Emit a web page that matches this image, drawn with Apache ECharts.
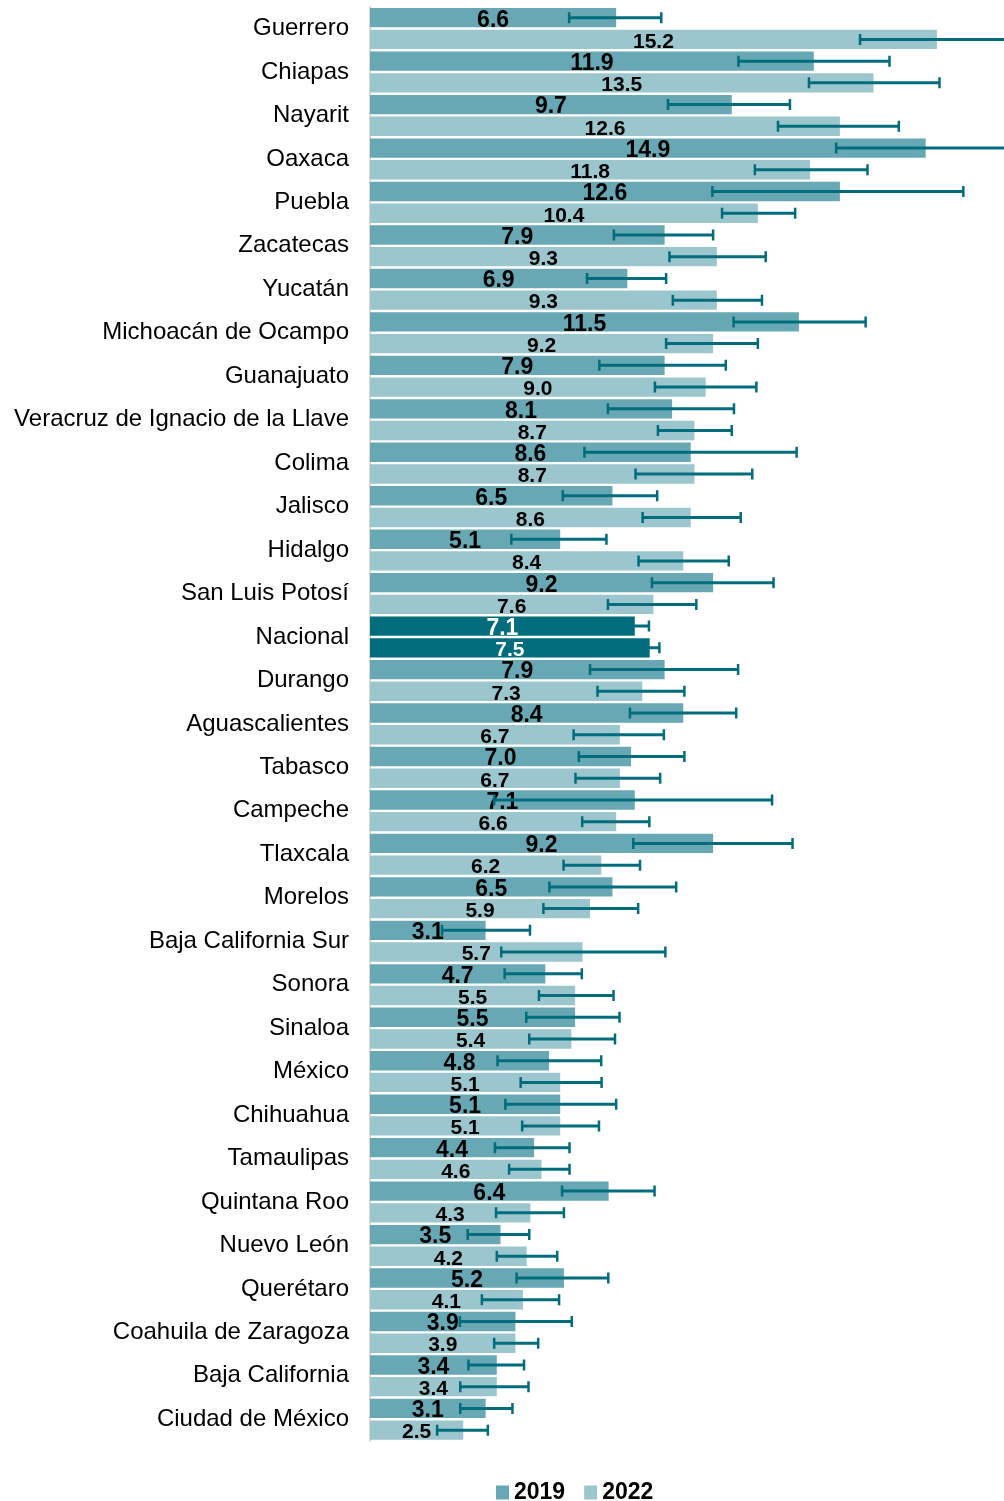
<!DOCTYPE html>
<html>
<head>
<meta charset="utf-8">
<script src="https://cdn.jsdelivr.net/npm/echarts@6/dist/echarts.min.js"></script>
<style>
html,body{margin:0;padding:0;background:#fff;}
#chart{width:1004px;height:1501px;}
</style>
</head>
<body>
<div id="chart"></div>
<script>
var categories = ['Guerrero','Chiapas','Nayarit','Oaxaca','Puebla','Zacatecas','Yucatán','Michoacán de Ocampo','Guanajuato','Veracruz de Ignacio de la Llave','Colima','Jalisco','Hidalgo','San Luis Potosí','Nacional','Durango','Aguascalientes','Tabasco','Campeche','Tlaxcala','Morelos','Baja California Sur','Sonora','Sinaloa','México','Chihuahua','Tamaulipas','Quintana Roo','Nuevo León','Querétaro','Coahuila de Zaragoza','Baja California','Ciudad de México'];

var values2019 = [6.6, 11.9, 9.7, 14.9, 12.6, 7.9, 6.9, 11.5, 7.9, 8.1, 8.6, 6.5, 5.1, 9.2, 7.1, 7.9, 8.4, 7.0, 7.1, 9.2, 6.5, 3.1, 4.7, 5.5, 4.8, 5.1, 4.4, 6.4, 3.5, 5.2, 3.9, 3.4, 3.1];
var values2022 = [15.2, 13.5, 12.6, 11.8, 10.4, 9.3, 9.3, 9.2, 9.0, 8.7, 8.7, 8.6, 8.4, 7.6, 7.5, 7.3, 6.7, 6.7, 6.6, 6.2, 5.9, 5.7, 5.5, 5.4, 5.1, 5.1, 4.6, 4.3, 4.2, 4.1, 3.9, 3.4, 2.5];

var low2019  = [5.34, 9.88, 7.99, 12.50, 9.18, 6.54, 5.82, 9.75, 6.15, 6.38, 5.75, 5.17, 3.79, 7.56, 6.70, 5.90, 6.97, 5.60, 3.33, 7.06, 4.81, 1.93, 3.61, 4.19, 3.42, 3.63, 3.35, 5.15, 2.62, 3.93, 2.41, 2.64, 2.42];
var high2019 = [7.81, 13.93, 11.26, 17.30, 15.91, 9.20, 7.94, 13.29, 9.54, 9.76, 11.44, 7.70, 6.34, 10.82, 7.48, 9.87, 9.82, 8.43, 10.78, 11.33, 8.21, 4.29, 5.68, 6.69, 6.20, 6.60, 5.35, 7.63, 4.27, 6.39, 5.41, 4.13, 3.82];
var low2022  = [13.14, 11.77, 10.94, 10.32, 9.44, 8.03, 8.12, 7.94, 7.64, 7.72, 7.12, 7.31, 7.20, 6.38, 7.20, 6.10, 5.46, 5.51, 5.69, 5.19, 4.65, 3.52, 4.53, 4.27, 4.04, 4.08, 3.73, 3.38, 3.40, 3.00, 3.33, 2.42, 1.80];
var high2022 = [17.26, 15.27, 14.18, 13.34, 11.40, 10.61, 10.51, 10.40, 10.36, 9.70, 10.25, 9.94, 9.62, 8.75, 7.76, 8.43, 7.88, 7.78, 7.49, 7.24, 7.19, 7.92, 6.53, 6.57, 6.21, 6.14, 5.35, 5.20, 5.02, 5.07, 4.51, 4.25, 3.16];

var seriesNames = ['2019', '2022'];
var highlightCategory = 'Nacional';

var FONT = "'Liberation Sans', Arial, sans-serif";
var C2019 = '#67a8b4';
var C2022 = '#9cc6cd';
var CDARK = '#006c7c';

function barData(vals) {
  return vals.map(function (v, i) {
    if (categories[i] === highlightCategory) {
      return { value: v, itemStyle: { color: CDARK }, label: { color: '#ffffff' } };
    }
    return v;
  });
}

function errData(lo, hi) {
  return lo.map(function (l, i) { return [i, l, hi[i]]; });
}

function makeRender(sign) {
  return function (params, api) {
    var cat = api.value(0);
    var p1 = api.coord([api.value(1), cat]);
    var p2 = api.coord([api.value(2), cat]);
    var band = api.size([0, 1])[1];
    var y = p1[1] + sign * band / 4;
    var cap = 5.5;
    var st = { stroke: CDARK, lineWidth: 3 };
    var cs = { stroke: CDARK, lineWidth: 2.5 };
    return {
      type: 'group',
      children: [
        { type: 'line', shape: { x1: p1[0], y1: y, x2: p2[0], y2: y }, style: st },
        { type: 'line', shape: { x1: p1[0], y1: y - cap, x2: p1[0], y2: y + cap }, style: cs },
        { type: 'line', shape: { x1: p2[0], y1: y - cap, x2: p2[0], y2: y + cap }, style: cs }
      ]
    };
  };
}

var chart = echarts.init(document.getElementById('chart'), null, { renderer: 'canvas' });
chart.setOption({
  animation: false,
  backgroundColor: '#ffffff',
  textStyle: { fontFamily: FONT },
  grid: { left: 370, right: 0, top: 6.8, bottom: 60, containLabel: false },
  legend: {
    data: seriesNames,
    left: 491,
    top: 1476,
    icon: 'rect',
    itemWidth: 13,
    itemHeight: 14,
    itemGap: 19,
    textStyle: { fontSize: 23, fontWeight: 'bold', color: '#000', fontFamily: FONT }
  },
  xAxis: {
    type: 'value', min: 0, max: 17, show: false,
    splitLine: { show: false }
  },
  yAxis: {
    type: 'category',
    data: categories,
    inverse: true,
    axisTick: { show: false },
    axisLine: { show: true, lineStyle: { color: '#d9d9d9', width: 2 } },
    axisLabel: { fontSize: 24, color: '#000', margin: 21, fontFamily: FONT, padding: [6, 0, 0, 0] }
  },
  series: [
    {
      name: seriesNames[0], type: 'bar', data: barData(values2019),
      barCategoryGap: '5.5%', barGap: '12%',
      itemStyle: { color: C2019 },
      z: 2,
      label: {
        show: true, position: 'inside', offset: [0, 2.5],
        fontSize: 23, fontWeight: 'bold', color: '#000', fontFamily: FONT,
        formatter: function (p) { return (+p.value).toFixed(1); }
      }
    },
    {
      name: seriesNames[1], type: 'bar', data: barData(values2022),
      barCategoryGap: '5.5%', barGap: '12%',
      itemStyle: { color: C2022 },
      z: 2,
      label: {
        show: true, position: 'inside', offset: [0, 2.5],
        fontSize: 21, fontWeight: 'bold', color: '#000', fontFamily: FONT,
        formatter: function (p) { return (+p.value).toFixed(1); }
      }
    },
    {
      name: 'err2019', type: 'custom', renderItem: makeRender(-1),
      data: errData(low2019, high2019), encode: { x: [1, 2], y: 0 },
      z: 5, clip: true, silent: true
    },
    {
      name: 'err2022', type: 'custom', renderItem: makeRender(1),
      data: errData(low2022, high2022), encode: { x: [1, 2], y: 0 },
      z: 5, clip: true, silent: true
    }
  ]
});
</script>
</body>
</html>
